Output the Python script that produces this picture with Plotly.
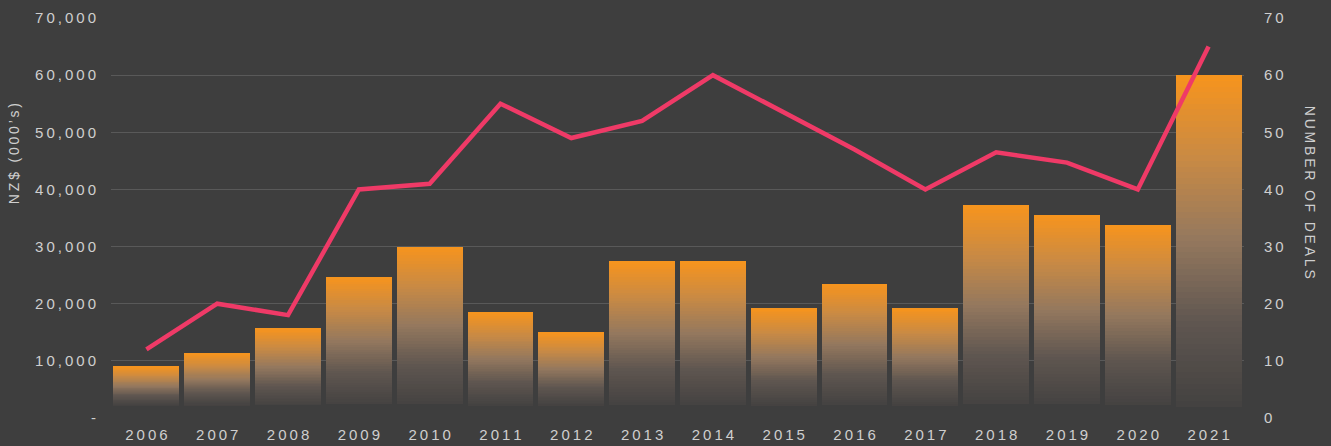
import plotly.graph_objects as go

# ---------------- data ----------------
years = ["2006", "2007", "2008", "2009", "2010", "2011", "2012", "2013",
         "2014", "2015", "2016", "2017", "2018", "2019", "2020", "2021"]
value_nzd = [9000, 11300, 15700, 24700, 30000, 18600, 15000, 27400,
             27400, 19200, 23500, 19200, 37200, 35600, 33700, 60000]
deals = [12, 20, 18, 40, 41, 55, 49, 52, 60, 53.5, 47, 40, 46.5, 44.7, 40, 65]
left_ticks = [0, 10000, 20000, 30000, 40000, 50000, 60000, 70000]
right_ticks = [0, 10, 20, 30, 40, 50, 60, 70]
left_title = "NZ$ (000’s)"
right_title = "NUMBER OF DEALS"

# ---------------- style ----------------
BG = "#3e3e3e"
GRID = "#595959"
TXT = "#cfcfcf"
LINE = "#ef3a67"
FONT = "Liberation Sans, Arial, Helvetica, sans-serif"
TS = "\u2009"  # thin space used as letter spacing


def spaced(s):
    return TS.join(list(s))


def fmt_left(v):
    return "-" if v == 0 else spaced(f"{v:,}")


# gradient stops (t: 0 bottom -> 1 top)
stops = [(0.0, (68, 66, 65)), (0.25, (95, 86, 80)), (0.5, (148, 120, 94)),
         (0.75, (201, 138, 68)), (1.0, (247, 148, 29))]


def grad(t):
    t = max(0.0, min(1.0, t))
    for (t0, c0), (t1, c1) in zip(stops[:-1], stops[1:]):
        if t <= t1:
            f = (t - t0) / (t1 - t0) if t1 > t0 else 0
            return "rgb(%d,%d,%d)" % tuple(round(a + (b - a) * f) for a, b in zip(c0, c1))
    return "rgb(%d,%d,%d)" % stops[-1][1]


N = 60
FADE = 2300  # level below which the bar fades into the background

fig = go.Figure()
for k in range(N):
    seg = [v / N for v in value_nzd]
    cols = []
    for v in value_nzd:
        mid = (k + 0.5) * v / N
        if mid < FADE:
            cols.append(BG)
        else:
            cols.append(grad((mid - FADE) / (v - FADE)))
    fig.add_trace(go.Bar(
        x=years, y=seg, marker=dict(color=cols, line=dict(width=0)),
        showlegend=False, hoverinfo="skip", yaxis="y"))

fig.add_trace(go.Scatter(
    x=years, y=deals, mode="lines", yaxis="y2",
    line=dict(color=LINE, width=4.5), showlegend=False))

fig.update_layout(
    width=1331, height=446,
    paper_bgcolor=BG, plot_bgcolor=BG,
    margin=dict(l=111, r=87, t=18, b=28, autoexpand=False),
    barmode="stack", bargap=0.07,
    font=dict(family=FONT, color=TXT, size=15),
    xaxis=dict(
        type="category", tickvals=years, ticktext=[spaced(y) for y in years],
        showgrid=False, zeroline=False, showline=False, ticks="",
        automargin=False,
        ticklabelstandoff=6, tickfont=dict(size=15, color=TXT)),
    yaxis=dict(
        range=[0, 70000], tickvals=left_ticks,
        ticktext=[fmt_left(v) for v in left_ticks],
        showgrid=True, gridcolor=GRID, gridwidth=1,
        zeroline=True, zerolinecolor=BG, zerolinewidth=1,
        showline=False, ticks="", ticklabelstandoff=14, automargin=False,
        tickfont=dict(size=15, color=TXT)),
    yaxis2=dict(
        range=[0, 70], tickvals=right_ticks,
        ticktext=[spaced(str(v)) for v in right_ticks],
        overlaying="y", side="right",
        showgrid=False, zeroline=False, showline=False, ticks="",
        ticklabelstandoff=19, automargin=False,
        tickfont=dict(size=15, color=TXT)),
    annotations=[
        dict(text=spaced(left_title), textangle=-90, xref="paper", yref="paper",
             x=-0.0855, y=0.66, xanchor="center", yanchor="middle",
             showarrow=False, font=dict(size=14, color=TXT)),
        dict(text=spaced(right_title), textangle=90, xref="paper", yref="paper",
             x=1.0585, y=0.565, xanchor="center", yanchor="middle",
             showarrow=False, font=dict(size=14, color=TXT)),
    ],
)

fig.write_html(
    "out.html",
    config={"displayModeBar": False},
    post_script="document.body.style.margin='0';document.body.style.overflow='hidden';"
                "document.body.style.background='%s';" % BG,
)
